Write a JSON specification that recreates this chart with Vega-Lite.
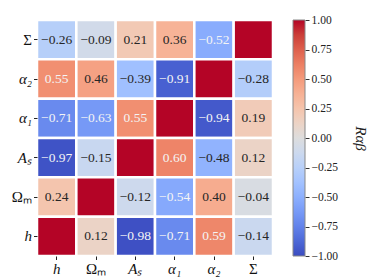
{
  "$schema": "https://vega.github.io/schema/vega-lite/v6.json",
  "padding": {"left": 11, "top": 14, "right": 2, "bottom": 5},
  "background": "white",
  "config": {"view": {"stroke": null}, "font": "Liberation Serif"},
  "datasets": {
    "corr": [
      {"row": "Σ", "col": "h", "v": -0.26}, {"row": "Σ", "col": "Ωₘ", "v": -0.09}, {"row": "Σ", "col": "Aₛ", "v": 0.21}, {"row": "Σ", "col": "α₁", "v": 0.36}, {"row": "Σ", "col": "α₂", "v": -0.52}, {"row": "Σ", "col": "Σ", "v": 1},
      {"row": "α₂", "col": "h", "v": 0.55}, {"row": "α₂", "col": "Ωₘ", "v": 0.46}, {"row": "α₂", "col": "Aₛ", "v": -0.39}, {"row": "α₂", "col": "α₁", "v": -0.91}, {"row": "α₂", "col": "α₂", "v": 1}, {"row": "α₂", "col": "Σ", "v": -0.28},
      {"row": "α₁", "col": "h", "v": -0.71}, {"row": "α₁", "col": "Ωₘ", "v": -0.63}, {"row": "α₁", "col": "Aₛ", "v": 0.55}, {"row": "α₁", "col": "α₁", "v": 1}, {"row": "α₁", "col": "α₂", "v": -0.94}, {"row": "α₁", "col": "Σ", "v": 0.19},
      {"row": "Aₛ", "col": "h", "v": -0.97}, {"row": "Aₛ", "col": "Ωₘ", "v": -0.15}, {"row": "Aₛ", "col": "Aₛ", "v": 1}, {"row": "Aₛ", "col": "α₁", "v": 0.60}, {"row": "Aₛ", "col": "α₂", "v": -0.48}, {"row": "Aₛ", "col": "Σ", "v": 0.12},
      {"row": "Ωₘ", "col": "h", "v": 0.24}, {"row": "Ωₘ", "col": "Ωₘ", "v": 1}, {"row": "Ωₘ", "col": "Aₛ", "v": -0.12}, {"row": "Ωₘ", "col": "α₁", "v": -0.54}, {"row": "Ωₘ", "col": "α₂", "v": 0.40}, {"row": "Ωₘ", "col": "Σ", "v": -0.04},
      {"row": "h", "col": "h", "v": 1}, {"row": "h", "col": "Ωₘ", "v": 0.12}, {"row": "h", "col": "Aₛ", "v": -0.98}, {"row": "h", "col": "α₁", "v": -0.71}, {"row": "h", "col": "α₂", "v": 0.59}, {"row": "h", "col": "Σ", "v": -0.14}
    ],
    "bar": [{"lo": -1, "hi": 1}]
  },
  "hconcat": [
    {
      "width": 236,
      "height": 236,
      "data": {"name": "corr"},
      "encoding": {
        "x": {
          "field": "col", "type": "nominal",
          "sort": ["h", "Ωₘ", "Aₛ", "α₁", "α₂", "Σ"],
          "scale": {"paddingInner": 0, "paddingOuter": 0},
          "axis": {
            "title": null, "labelAngle": 0, "domain": false, "tickSize": 3.5, "tickColor": "#222",
            "labelFontSize": 15, "labelPadding": 2, "labelColor": "#111",
            "labelFontStyle": {"condition": {"test": "datum.value == 'Σ' || datum.value == 'Ωₘ'", "value": "normal"}, "value": "italic"}
          }
        },
        "y": {
          "field": "row", "type": "nominal",
          "sort": ["Σ", "α₂", "α₁", "Aₛ", "Ωₘ", "h"],
          "scale": {"paddingInner": 0, "paddingOuter": 0},
          "axis": {
            "title": null, "domain": false, "tickSize": 3.5, "tickColor": "#222",
            "labelFontSize": 15, "labelPadding": 2, "labelColor": "#111",
            "labelFontStyle": {"condition": {"test": "datum.value == 'Σ' || datum.value == 'Ωₘ'", "value": "normal"}, "value": "italic"}
          }
        }
      },
      "layer": [
        {
          "mark": {"type": "rect", "stroke": "white", "strokeWidth": 2.5},
          "encoding": {
            "color": {
              "field": "v", "type": "quantitative", "legend": null,
              "scale": {
                "domain": [-1, -0.875, -0.75, -0.625, -0.5, -0.375, -0.25, -0.125, 0, 0.125, 0.25, 0.375, 0.5, 0.625, 0.75, 0.875, 1],
                "range": ["#3b4cc0", "#4d68d7", "#6282ea", "#779af7", "#8db0fe", "#a3c2ff", "#b8d0f9", "#ccd9ee", "#dddddd", "#ecd3c5", "#f5c4ac", "#f7b194", "#f49a7b", "#ec7f63", "#de604d", "#cb3e38", "#b40426"],
                "interpolate": "rgb"
              }
            }
          }
        },
        {
          "transform": [{"filter": "datum.v < 1"}],
          "mark": {"type": "text", "fontSize": 13.5, "font": "Liberation Serif"},
          "encoding": {
            "text": {"field": "v", "type": "quantitative", "format": ".2f"},
            "color": {"condition": {"test": "abs(datum.v) > 0.5", "value": "#f4f4f4"}, "value": "#262626"}
          }
        }
      ]
    },
    {
      "width": 12,
      "height": 236,
      "data": {"name": "bar"},
      "mark": {
        "type": "rect", "stroke": "#888888", "strokeWidth": 1,
        "color": {
          "gradient": "linear", "x1": 0, "y1": 1, "x2": 0, "y2": 0,
          "stops": [
            {"offset": 0, "color": "#3b4cc0"}, {"offset": 0.0625, "color": "#4d68d7"}, {"offset": 0.125, "color": "#6282ea"}, {"offset": 0.1875, "color": "#779af7"},
            {"offset": 0.25, "color": "#8db0fe"}, {"offset": 0.3125, "color": "#a3c2ff"}, {"offset": 0.375, "color": "#b8d0f9"}, {"offset": 0.4375, "color": "#ccd9ee"},
            {"offset": 0.5, "color": "#dddddd"}, {"offset": 0.5625, "color": "#ecd3c5"}, {"offset": 0.625, "color": "#f5c4ac"}, {"offset": 0.6875, "color": "#f7b194"},
            {"offset": 0.75, "color": "#f49a7b"}, {"offset": 0.8125, "color": "#ec7f63"}, {"offset": 0.875, "color": "#de604d"}, {"offset": 0.9375, "color": "#cb3e38"},
            {"offset": 1, "color": "#b40426"}
          ]
        }
      },
      "encoding": {
        "y": {
          "field": "lo", "type": "quantitative",
          "scale": {"domain": [-1, 1], "nice": false, "zero": false},
          "axis": {
            "orient": "right", "values": [-1, -0.75, -0.5, -0.25, 0, 0.25, 0.5, 0.75, 1],
            "format": ".2f", "grid": false, "domain": false, "tickSize": 4, "tickColor": "#333",
            "labelFontSize": 11.5, "labelPadding": 2, "labelColor": "#222",
            "title": "Rαβ", "titleAngle": 90, "titleFontSize": 15, "titleFontWeight": "normal",
            "titleFontStyle": "italic", "titleColor": "#222", "titlePadding": 15
          }
        },
        "y2": {"field": "hi"}
      }
    }
  ],
  "spacing": 17
}
